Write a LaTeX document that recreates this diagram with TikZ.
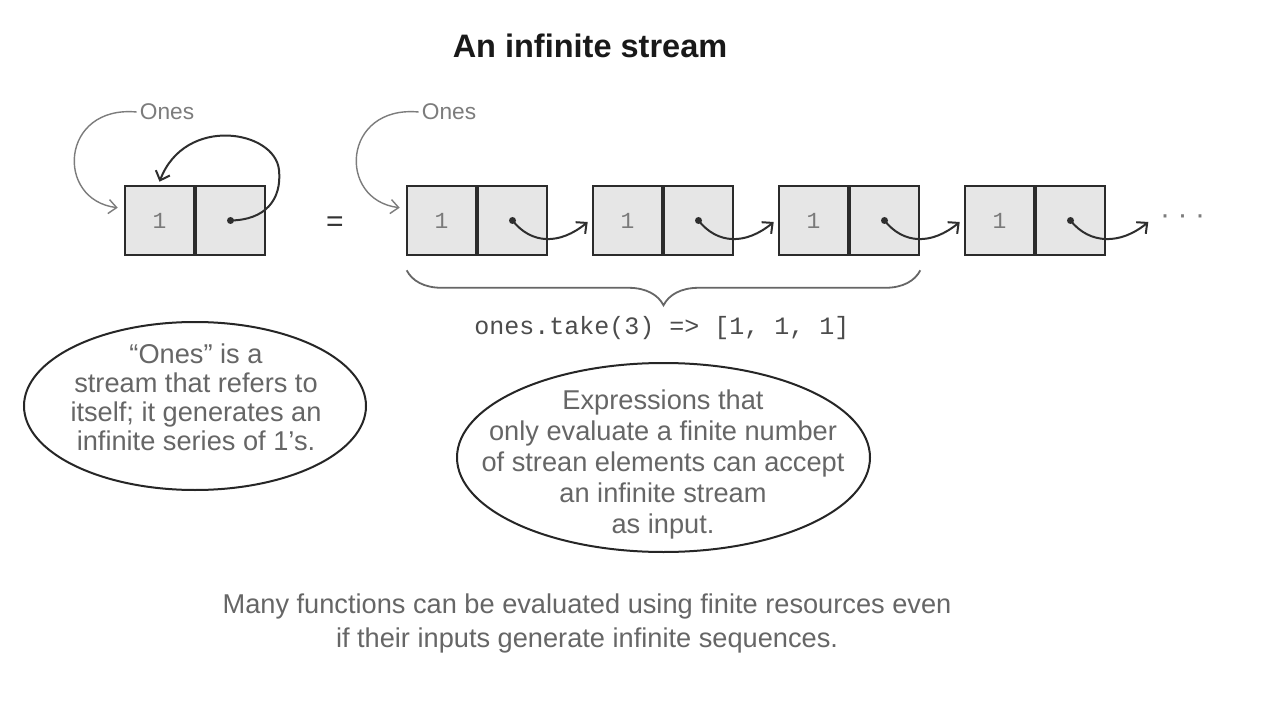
\documentclass[tikz,border=0pt]{standalone}
\usepackage{fontspec}
\setmainfont{Liberation Sans}
\setmonofont{Liberation Mono}
\usetikzlibrary{arrows.meta,calc,shapes.geometric,decorations.pathreplacing}
\definecolor{txtgray}{HTML}{666666}
\definecolor{numgray}{HTML}{7A7A7A}
\definecolor{boxfill}{HTML}{E6E6E6}
\definecolor{boxline}{HTML}{2B2B2B}
\definecolor{arrowdark}{HTML}{2E2E2E}
\definecolor{thingray}{HTML}{7C7C7C}
\begin{document}
\begin{tikzpicture}[x=1pt,y=-1pt,
  cell/.style={draw=boxline, fill=boxfill, line width=2.6pt, minimum width=69pt, minimum height=69pt, inner sep=0pt, text=numgray, font=\fontsize{23}{23}\selectfont\ttfamily},
  ptr/.style={line width=2pt, draw=arrowdark, -{Straight Barb[length=8pt,width=15pt]}},
  dotmark/.style={circle, fill=arrowdark, inner sep=0pt, minimum size=7pt},
  namelbl/.style={text=thingray, font=\fontsize{22.7}{22.7}\selectfont, inner sep=3pt},
  namearr/.style={line width=1.4pt, draw=thingray, -{Straight Barb[length=8pt,width=14pt]}},
  bubble/.style={ellipse, draw=black!85, line width=2pt, minimum width=342pt, minimum height=168pt, inner sep=0pt},
  bodytext/.style={text=txtgray, align=center, font=\fontsize{27.2}{29}\selectfont}
]
\useasboundingbox[fill=white] (0,0) rectangle (1288,714);

% title
\node[font=\fontsize{32.5}{32.5}\selectfont\bfseries, text=black!90] (title) at (590,46) {An infinite stream};

% left self-referencing stream
\node[cell] (l0) at (159.5,220.5) {1};
\node[cell] (r0) at (230.5,220.5) {};
\node[dotmark] (p0) at (r0.center) {};
\coordinate (t0) at ($(l0.north)+(0,-3)$);
\draw[ptr] (p0.center) .. controls (265,220) and (282,200) .. (279,170)
                       .. controls (275,130) and (185,115) .. (t0);

\node[namelbl] (ones0) at (167,112) {Ones};
\coordinate (a0) at ($(l0.north west)+(-6,23)$);
\draw[namearr] (ones0.west) .. controls (60,105) and (55,200) .. (a0);

\node[font=\fontsize{30}{30}\selectfont, text=black!80] (eq) at (335,224) {=};

% chain
\foreach \i in {1,2,3,4}{
  \node[cell] (l\i) at ({441.5+186*(\i-1)},220.5) {1};
  \node[cell] (r\i) at ({512.5+186*(\i-1)},220.5) {};
  \node[dotmark] (p\i) at (r\i.center) {};
}
\foreach \i/\j in {1/2,2/3,3/4}{
  \coordinate (e\i) at ($(l\j.west)+(-4,1.5)$);
  \draw[ptr] (p\i.center) .. controls ($(p\i.center)+(19,24)$) and ($(e\i)+(-28,23)$) .. (e\i);
}
\coordinate (e4) at ($(r4.east)+(42,1.5)$);
\draw[ptr] (p4.center) .. controls ($(p4.center)+(19,24)$) and ($(e4)+(-28,23)$) .. (e4);
\node[text=thingray, font=\fontsize{30}{30}\selectfont] (more) at (1182.5,220) {·\hspace{7.5pt}·\hspace{7.5pt}·};

\node[namelbl] (ones1) at (449,112) {Ones};
\coordinate (a1) at ($(l1.north west)+(-6,23)$);
\draw[namearr] (ones1.west) .. controls (342,105) and (337,200) .. (a1);

% brace
\draw[decorate, decoration={brace, amplitude=35pt, mirror}, line width=1.8pt, draw=black!60]
  ($(l1.south west)+(1,14)$) -- ($(r3.south east)+(0,14)$);
\node[text=black!70, font=\fontsize{25}{25}\selectfont\ttfamily] (take) at (662,328) {ones.take(3) => [1, 1, 1]};

% bubbles
\node[bubble] (b1) at (195,406) {};
\node[bodytext] (bt1) at (196,397) {“Ones” is a\\stream that refers to\\itself; it generates an\\infinite series of 1’s.};

\node[bubble, minimum width=413pt, minimum height=189pt] (b2) at (663.5,457.5) {};
\node[bodytext, font=\fontsize{27.2}{31}\selectfont] (bt2) at (663,464) {Expressions that\\only evaluate a finite number\\of strean elements can accept\\an infinite stream\\as input.};

% bottom caption
\node[bodytext, font=\fontsize{27.2}{34}\selectfont] (cap) at (587,623) {Many functions can be evaluated using finite resources even\\if their inputs generate infinite sequences.};
\end{tikzpicture}
\end{document}
